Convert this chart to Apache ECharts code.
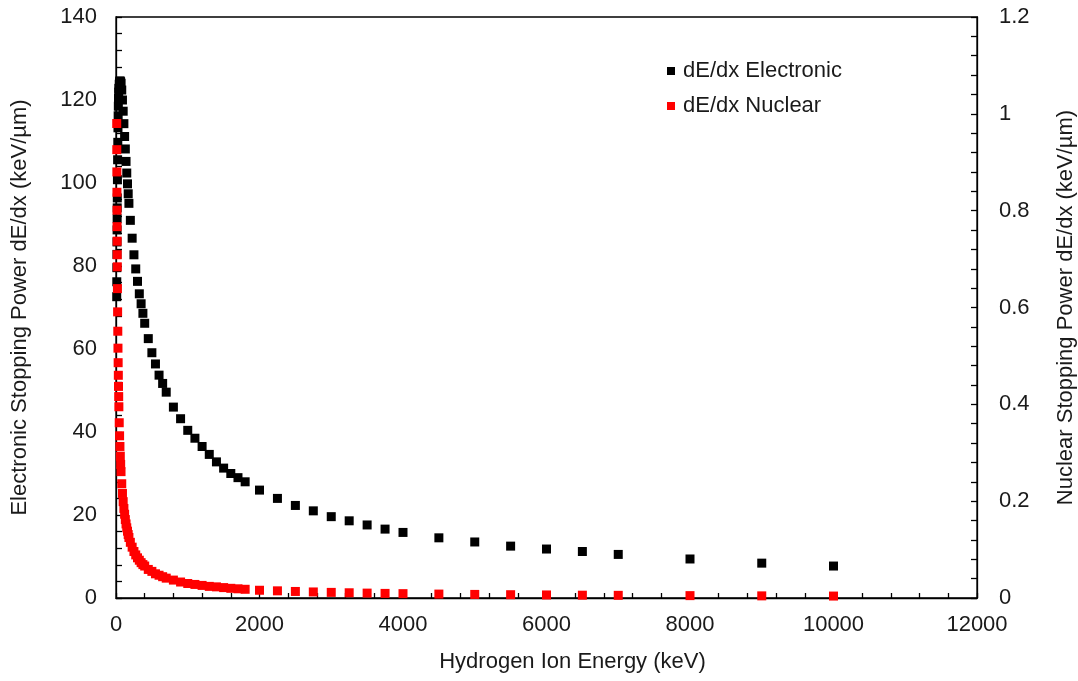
<!DOCTYPE html>
<html lang="en">
<head>
<meta charset="utf-8" />
<title>Stopping power</title>
<script src="https://cdn.jsdelivr.net/npm/echarts@6/dist/echarts.min.js"></script>
<style>
  html, body { margin: 0; padding: 0; background: #fff; }
  #main { width: 1078px; height: 681px; }
</style>
</head>
<body>
<div id="main"></div>
<script type="text/javascript">
// energy table (keV), same for both series
var energy = [10, 11, 12, 13, 14, 15, 16, 17, 18, 20, 22.5, 25, 27.5, 30, 32.5, 35, 37.5, 40,
  45, 50, 55, 60, 65, 70, 80, 90, 100, 110, 120, 130, 140, 150, 160, 170, 180,
  200, 225, 250, 275, 300, 325, 350, 375, 400, 450, 500, 550, 600, 650, 700,
  800, 900, 1000, 1100, 1200, 1300, 1400, 1500, 1600, 1700, 1800,
  2000, 2250, 2500, 2750, 3000, 3250, 3500, 3750, 4000, 4500, 5000, 5500, 6000, 6500, 7000,
  8000, 9000, 10000];

// electronic stopping, keV/um (left axis)
var electronic = [72.6, 76.2, 79.6, 82.8, 85.8, 88.7, 91.4, 94.0, 96.4, 100.8, 105.6, 109.8, 113.3, 116.2, 118.5, 120.4, 121.9, 122.8,
  123.8, 124.4, 124.6, 124.5, 124.3, 124.0, 122.4, 120.0, 117.3, 114.3, 111.2, 108.2, 105.2, 102.4, 99.8, 97.4, 95.1,
  91.0, 86.7, 82.7, 79.3, 76.3, 73.3, 70.9, 68.6, 66.2, 62.5, 59.1, 56.4, 53.7, 51.7, 49.6,
  46.0, 43.2, 40.4, 38.5, 36.5, 34.6, 32.8, 31.3, 30.0, 29.0, 28.0,
  26.0, 24.0, 22.3, 21.0, 19.6, 18.6, 17.6, 16.6, 15.8, 14.5, 13.5, 12.5, 11.8, 11.2, 10.5,
  9.4, 8.4, 7.7];

// nuclear stopping, keV/um (right axis)
var nuclear = [0.98, 0.926, 0.88, 0.838, 0.801, 0.767, 0.737, 0.709, 0.684, 0.639, 0.591, 0.551, 0.516, 0.486, 0.46, 0.437, 0.416, 0.395,
  0.362, 0.335, 0.313, 0.293, 0.276, 0.261, 0.236, 0.216, 0.199, 0.185, 0.173, 0.162, 0.153, 0.145, 0.138, 0.131, 0.125,
  0.115, 0.105, 0.096, 0.089, 0.083, 0.078, 0.073, 0.069, 0.066, 0.059, 0.055, 0.050, 0.047, 0.044, 0.041,
  0.037, 0.033, 0.030, 0.028, 0.026, 0.024, 0.023, 0.0215, 0.020, 0.019, 0.018,
  0.016, 0.0148, 0.0135, 0.0125, 0.0116, 0.0108, 0.0101, 0.0095, 0.009, 0.0081, 0.0074, 0.0068, 0.0063, 0.0058, 0.0055,
  0.0049, 0.0044, 0.004];

var xTicks = { min: 0, max: 12000, step: 2000 };
var leftTicks = { min: 0, max: 140, step: 20 };
var rightTicks = { min: 0, max: 1.2, step: 0.2 };

var font = 'Liberation Sans, Arial, sans-serif';
var txt = '#1a1a1a';
var fs = 22;

function pairs(ys) {
  var out = [];
  for (var i = 0; i < energy.length; i++) out.push([energy[i], ys[i]]);
  return out;
}

function yAx(t, pos, name, gap, margin) {
  return {
    type: 'value', position: pos, min: t.min, max: t.max, interval: t.step,
    name: name, nameLocation: 'middle', nameGap: gap, nameRotate: 90,
    nameTextStyle: { fontFamily: font, fontSize: fs, color: txt },
    axisLine: { show: true, lineStyle: { color: '#000', width: 1.3 } },
    axisTick: { show: true, inside: true, length: 6, lineStyle: { color: '#000', width: 1.3 } },
    minorTick: { show: true, splitNumber: 5, length: 6, lineStyle: { color: '#000', width: 1.3 } },
    axisLabel: { fontFamily: font, fontSize: fs, color: txt, margin: margin },
    splitLine: { show: false }
  };
}

var chart = echarts.init(document.getElementById('main'));
chart.setOption({
  animation: false,
  backgroundColor: '#fff',
  grid: { left: 116, right: 101, top: 17, bottom: 83, containLabel: false, outerBoundsMode: 'none',
    show: true, borderColor: '#000', borderWidth: 1.3 },
  legend: {
    orient: 'vertical', left: 662, top: 55, itemGap: 13,
    itemWidth: 8, itemHeight: 8, icon: 'rect',
    textStyle: { fontFamily: font, fontSize: fs, color: txt, padding: [0, 0, 0, 3] },
    data: ['dE/dx Electronic', 'dE/dx Nuclear']
  },
  xAxis: {
    type: 'value', min: xTicks.min, max: xTicks.max, interval: xTicks.step,
    name: 'Hydrogen Ion Energy (keV)', nameLocation: 'middle', nameGap: 53,
    nameTextStyle: { fontFamily: font, fontSize: fs, color: txt, padding: [0, 0, 0, 52] },
    axisLine: { show: true, lineStyle: { color: '#000', width: 1.3 } },
    axisTick: { show: true, inside: true, length: 5, lineStyle: { color: '#000', width: 1.3 } },
    minorTick: { show: true, splitNumber: 5, length: 5, lineStyle: { color: '#000', width: 1.3 } },
    axisLabel: { fontFamily: font, fontSize: fs, color: txt, margin: 16,
      formatter: function (v) { return String(v); } },
    splitLine: { show: false }
  },
  yAxis: [
    yAx(leftTicks, 'left', 'Electronic Stopping Power dE/dx (keV/\u00b5m)', 85, 19),
    yAx(rightTicks, 'right', 'Nuclear Stopping Power dE/dx (keV/\u00b5m)', 78, 22)
  ],
  series: [
    {
      name: 'dE/dx Electronic', type: 'scatter', yAxisIndex: 0,
      symbol: 'rect', symbolSize: 9, itemStyle: { color: '#000', opacity: 1 },
      data: pairs(electronic)
    },
    {
      name: 'dE/dx Nuclear', type: 'scatter', yAxisIndex: 1,
      symbol: 'rect', symbolSize: 9, itemStyle: { color: '#ff0000', opacity: 1 },
      data: pairs(nuclear)
    }
  ]
});
</script>
</body>
</html>
